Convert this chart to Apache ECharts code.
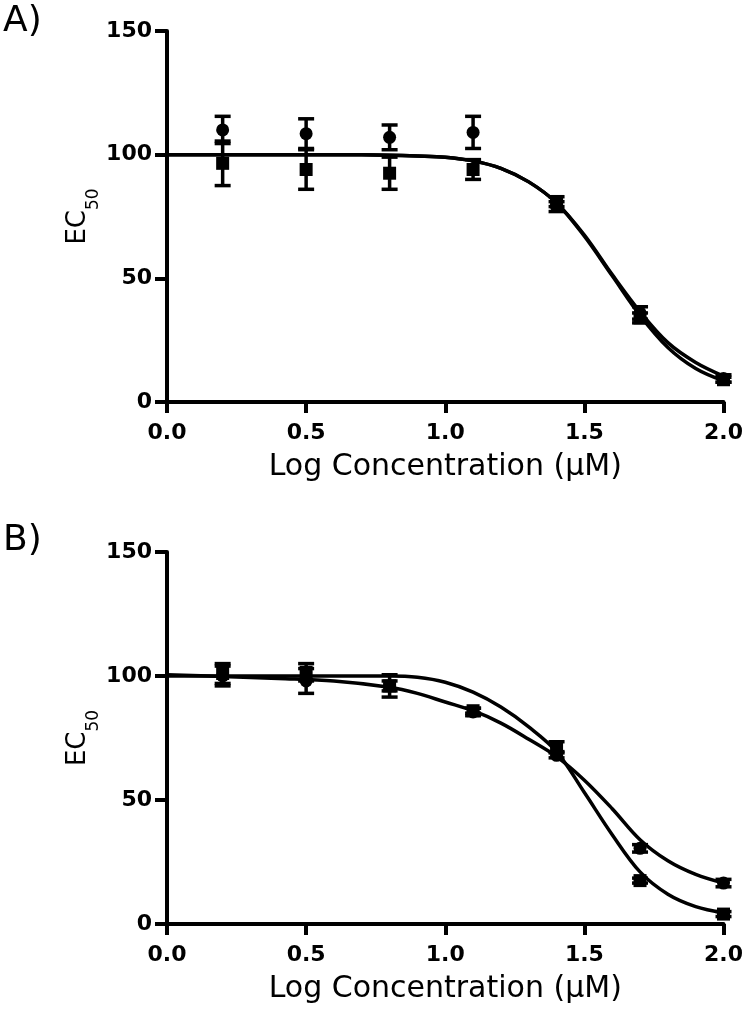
<!DOCTYPE html>
<html>
<head>
<meta charset="utf-8">
<script src="https://cdn.jsdelivr.net/npm/echarts@6/dist/echarts.min.js"></script>
<style>
html,body{margin:0;padding:0;background:#fff;}
#c{width:746px;height:1020px;}
</style>
</head>
<body>
<div id="c"></div>
<script>
// ---- data ----
const panelLabels = ['A)', 'B)'];
const xTitle = 'Log Concentration (\u03bcM)';
const xTicks = [0, 0.5, 1.0, 1.5, 2.0];
const yTicks = [0, 50, 100, 150];

const doseX = [0.2, 0.5, 0.8, 1.1, 1.4, 1.7, 2.0];

// Panel A
const aCircleMean = [110, 108.5, 107, 109, 79, 36, 9.5];
const aCircleErr  = [5.5, 6, 5, 6.5, 2, 2.5, 1.5];
const aSquareMean = [96.5, 94, 92.5, 94, 81, 34, 9];
const aSquareErr  = [9, 8, 6.5, 4, 2, 2, 1];

// Panel B
const bCircleMean = [100, 98, 96, 85.5, 68, 30.5, 16.5];
const bCircleErr  = [4, 5, 4.5, 1.5, 1, 1.5, 1.5];
const bSquareMean = [101, 101.5, 96, 86, 71.5, 17.5, 4];
const bSquareErr  = [4, 3.5, 2, 1, 2, 1, 1];

// fitted curves
const curveX       = [0, 0.2, 0.4, 0.6, 0.8, 0.9, 1.0, 1.1, 1.2, 1.3, 1.4, 1.5, 1.6, 1.7, 1.8, 1.9, 2.0];
const aCurveCircle = [100, 100, 100, 100, 99.8, 99.5, 99, 97.5, 94.5, 89, 80.5, 67.5, 51.5, 36.5, 24, 16, 10.5];
const aCurveSquare = [100, 100, 100, 100, 99.8, 99.5, 99, 97.5, 94.5, 89, 80.5, 67, 51, 35, 22, 13.5, 8.5];
const bCurveCircle = [100.5, 99.8, 99, 98, 95.5, 93, 89.5, 86, 81, 74.5, 67.5, 58, 46.5, 34, 25.5, 20, 16.5];
const bCurveSquare = [100, 100, 100, 100, 100, 99.5, 97.5, 93.5, 87.5, 79.5, 69.5, 53, 36, 21, 12, 7, 4.5];

// ---- chart ----
const chart = echarts.init(document.getElementById('c'), null, {renderer: 'canvas'});
const BLACK = '#000';
const numFont = 'DejaVu Sans';

function pairs(xs, ys) { return xs.map((x, i) => [x, ys[i]]); }
function errData(xs, m, e) { return xs.map((x, i) => [x, m[i], e[i]]); }

function xAxisCfg(idx) {
  return {
    gridIndex: idx, type: 'value', min: 0, max: 2, interval: 0.5,
    name: xTitle, nameLocation: 'middle', nameGap: 50, nameMoveOverlap: false,
    nameTextStyle: {fontFamily: numFont, fontSize: 30, color: BLACK},
    axisLine: {show: true, onZero: false, lineStyle: {color: BLACK, width: 4}},
    axisTick: {show: true, length: 11, lineStyle: {color: BLACK, width: 4}},
    axisLabel: {margin: 20, fontFamily: numFont, fontWeight: 'bold', fontSize: 22, color: BLACK,
      formatter: v => (xTicks.indexOf(v) >= 0 ? v.toFixed(1) : '')},
    splitLine: {show: false}
  };
}
function yAxisCfg(idx) {
  return {
    gridIndex: idx, type: 'value', min: 0, max: 150, interval: 50,
    name: '{a|EC}{b|50}', nameLocation: 'middle', nameRotate: 90, nameGap: 76, nameMoveOverlap: false,
    nameTextStyle: {
      rich: {
        a: {fontFamily: numFont, fontSize: 26, lineHeight: 26, verticalAlign: 'top', color: BLACK},
        b: {fontFamily: numFont, fontSize: 17, lineHeight: 17, verticalAlign: 'top', padding: [20, 0, 0, 0], color: BLACK}
      }
    },
    axisLine: {show: true, onZero: false, lineStyle: {color: BLACK, width: 4}},
    axisTick: {show: true, length: 12, lineStyle: {color: BLACK, width: 4}},
    axisLabel: {margin: 15, fontFamily: numFont, fontWeight: 'bold', fontSize: 22, color: BLACK,
      formatter: v => (yTicks.indexOf(v) >= 0 ? String(v) : '')},
    splitLine: {show: false}
  };
}

function curveSeries(idx, ys) {
  return {
    type: 'line', xAxisIndex: idx, yAxisIndex: idx, data: pairs(curveX, ys),
    smooth: 0.35, showSymbol: false, symbol: 'none', silent: true,
    lineStyle: {color: BLACK, width: 3.5}, z: 2
  };
}
function errSeries(idx, m, e) {
  return {
    type: 'custom', xAxisIndex: idx, yAxisIndex: idx, data: errData(doseX, m, e), z: 3, silent: true,
    renderItem: function (params, api) {
      const x = api.value(0), y = api.value(1), er = api.value(2);
      const top = api.coord([x, y + er]);
      const bot = api.coord([x, y - er]);
      const hw = 8;
      const st = {stroke: BLACK, lineWidth: 3.5};
      return {
        type: 'group',
        children: [
          {type: 'line', shape: {x1: top[0], y1: top[1], x2: bot[0], y2: bot[1]}, style: st},
          {type: 'line', shape: {x1: top[0] - hw, y1: top[1], x2: top[0] + hw, y2: top[1]}, style: st},
          {type: 'line', shape: {x1: bot[0] - hw, y1: bot[1], x2: bot[0] + hw, y2: bot[1]}, style: st}
        ]
      };
    }
  };
}
function markerSeries(idx, m, sym, size) {
  return {
    type: 'scatter', xAxisIndex: idx, yAxisIndex: idx, data: pairs(doseX, m),
    symbol: sym, symbolSize: size, itemStyle: {color: BLACK, opacity: 1}, z: 4, silent: true
  };
}

const option = {
  backgroundColor: '#fff',
  animation: false,
  grid: [
    {left: 167, top: 31, width: 559, height: 371},
    {left: 167, top: 552, width: 559, height: 372}
  ],
  xAxis: [xAxisCfg(0), xAxisCfg(1)],
  yAxis: [yAxisCfg(0), yAxisCfg(1)],
  graphic: [
    {type: 'text', left: 3, top: 4, style: {text: panelLabels[0], font: '36px "DejaVu Sans"', fill: BLACK}},
    {type: 'text', left: 3, top: 523, style: {text: panelLabels[1], font: '36px "DejaVu Sans"', fill: BLACK}}
  ],
  series: [
    curveSeries(0, aCurveCircle), curveSeries(0, aCurveSquare),
    errSeries(0, aCircleMean, aCircleErr), errSeries(0, aSquareMean, aSquareErr),
    markerSeries(0, aCircleMean, 'circle', 13), markerSeries(0, aSquareMean, 'rect', 13),
    curveSeries(1, bCurveCircle), curveSeries(1, bCurveSquare),
    errSeries(1, bCircleMean, bCircleErr), errSeries(1, bSquareMean, bSquareErr),
    markerSeries(1, bCircleMean, 'circle', 13), markerSeries(1, bSquareMean, 'rect', 13)
  ]
};
chart.setOption(option);
</script>
</body>
</html>
